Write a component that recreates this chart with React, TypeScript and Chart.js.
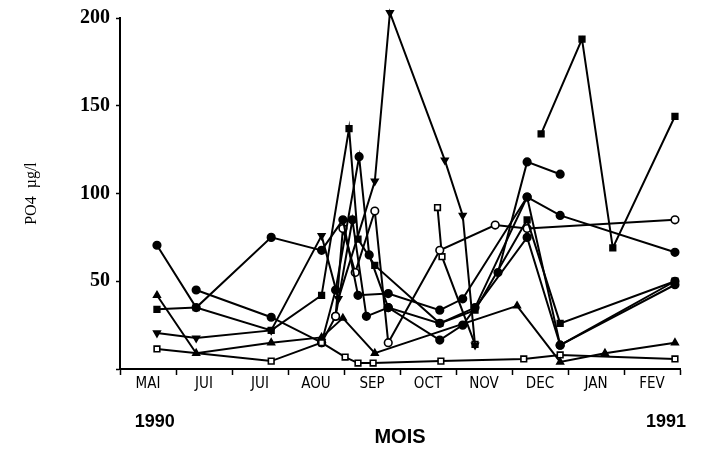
import { useEffect, useRef } from 'react';
import { Chart, registerables } from 'chart.js';

Chart.register(...registerables);

// Month labels (placed between month ticks); x = months since 1 May 1990
const monthLabels = ['MAI', 'JUI', 'JUI', 'AOU', 'SEP', 'OCT', 'NOV', 'DEC', 'JAN', 'FEV'];
const yearLabels = ['1990', '1991'];
const yearPositions = [0.62, 9.75];
const yTicks = [50, 100, 150, 200];

// Station series (x = month position, y = PO4 µg/l)
const sA_x = [0.66, 1.36, 2.7, 3.6, 3.98, 4.25, 4.79, 5.71, 6.12, 7.27, 7.86, 9.91];
const sA_y = [70.5, 35, 75, 67.6, 85, 42, 43, 33.5, 40, 98, 87.5, 66.5];

const sB_x = [0.66, 1.36, 2.7, 3.6, 4.09, 4.25, 4.55, 5.71, 6.34, 7.27, 7.86, 9.91];
const sB_y = [34, 35, 22, 42, 137, 74, 59, 26, 33.5, 85, 26, 50];

const sC_x = [0.66, 1.36, 2.7, 3.6, 3.98, 4.55, 7.09, 7.86, 8.66, 9.91];
const sC_y = [42, 9, 15, 18, 29, 9, 36, 4, 9, 15];

const sD_x = [0.66, 2.7, 3.6, 4.02, 4.25, 4.52, 5.73, 7.21, 7.86, 9.91];
const sD_y = [11.4, 4.5, 15, 6.8, 3.4, 3.4, 4.5, 5.7, 8, 5.7];

const sE_x = [1.36, 2.7, 3.6, 3.85, 4.27, 4.45, 4.79, 5.71, 6.12, 7.27, 7.86, 9.91];
const sE_y = [45, 29.5, 15, 45, 121, 65, 35, 16.5, 25, 75, 13.6, 48];

const sF_x = [0.66, 1.36, 2.7, 3.6, 3.9, 4.55, 4.82, 5.8, 6.12, 6.34];
const sF_y = [20.5, 17.6, 22, 76, 40, 107, 203, 119, 87.5, 13.6];

const sG_x = [3.85, 3.98, 4.2, 4.55, 4.79, 5.71, 6.7, 7.27, 9.91];
const sG_y = [30, 80, 55, 90, 15, 67.6, 82, 80, 85];

const sH_x = [5.67, 5.75, 6.34];
const sH_y = [92, 64, 14];

const sI_x = [7.52, 8.25, 8.8, 9.91];
const sI_y = [134, 188, 69, 144];

const sJ_x = [6.75, 7.27, 7.86];
const sJ_y = [55, 118, 111];

const sK_x = [3.6, 3.85, 4.15, 4.4, 4.79, 5.71, 6.34, 7.27, 7.86, 9.91];
const sK_y = [15, 30, 85, 30, 35, 26, 35, 98, 13.6, 50];

const SERIF = '"Liberation Serif", "DejaVu Serif", serif';
const NARROW = '"Liberation Sans Narrow", "DejaVu Sans Condensed", "Liberation Sans", sans-serif';
const SANS = '"Liberation Sans", Arial, sans-serif';

function series(xs: number[], ys: number[], style: string, open: boolean, rotation = 0) {
  return {
    data: xs.map((x, i) => ({ x, y: ys[i] })),
    borderColor: '#000',
    borderWidth: 2,
    pointStyle: style,
    pointRotation: rotation,
    pointRadius: style === 'rect' ? 4 : 3.8,
    pointBackgroundColor: open ? '#fff' : '#000',
    pointBorderColor: '#000',
    pointBorderWidth: 1.6,
    fill: false,
    tension: 0,
    clip: false as any,
  };
}

export default function App() {
  const ref = useRef<HTMLCanvasElement>(null);

  useEffect(() => {
    if (!ref.current) return;
    const halfTicks: number[] = [];
    for (let i = 0; i <= 20; i++) halfTicks.push(i / 2);

    const chart = new Chart(ref.current, {
      type: 'line',
      data: {
        datasets: [
          series(sA_x, sA_y, 'circle', false),
          series(sB_x, sB_y, 'rect', false),
          series(sC_x, sC_y, 'triangle', false),
          series(sD_x, sD_y, 'rect', true),
          series(sE_x, sE_y, 'circle', false),
          series(sF_x, sF_y, 'triangle', false, 180),
          series(sG_x, sG_y, 'circle', true),
          series(sH_x, sH_y, 'rect', true),
          series(sI_x, sI_y, 'rect', false),
          series(sJ_x, sJ_y, 'circle', false),
          series(sK_x, sK_y, 'circle', false),
        ] as any,
      },
      options: {
        responsive: false,
        animation: false,
        events: [],
        layout: { padding: { left: 0, right: 25, top: 17, bottom: 0 } },
        plugins: { legend: { display: false }, tooltip: { enabled: false } },
        scales: {
          x: {
            type: 'linear',
            position: 'bottom',
            weight: 0,
            min: 0,
            max: 10,
            afterBuildTicks: (axis: any) => {
              axis.ticks = halfTicks.map((v) => ({ value: v }));
            },
            afterFit: (s: any) => {
              s.height = 36;
            },
            ticks: {
              autoSkip: false,
              maxRotation: 0,
              minRotation: 0,
              padding: 0,
              color: '#000',
              font: { family: NARROW, size: 15 },
              callback: (v: any) => (Number.isInteger(v) ? '' : monthLabels[Math.floor(v)]),
            },
            grid: {
              drawOnChartArea: false,
              tickLength: 6,
              tickWidth: 1.5,
              tickColor: (ctx: any) => (ctx.tick && Number.isInteger(ctx.tick.value) ? '#000' : 'rgba(0,0,0,0)'),
            },
            border: { color: '#000', width: 2 },
          },
          x2: {
            type: 'linear',
            position: 'bottom',
            weight: 1,
            min: 0,
            max: 10,
            afterBuildTicks: (axis: any) => {
              axis.ticks = yearPositions.map((v) => ({ value: v }));
            },
            afterFit: (s: any) => {
              s.height = 53;
            },
            ticks: {
              autoSkip: false,
              maxRotation: 0,
              padding: 6,
              color: '#000',
              font: { family: SANS, size: 18, weight: 'bold' },
              callback: (_v: any, i: number) => yearLabels[i],
            },
            grid: { display: false, drawTicks: false },
            border: { display: false },
            title: {
              display: true,
              text: 'MOIS',
              color: '#000',
              font: { family: SANS, size: 20, weight: 'bold' },
              padding: { top: 0, bottom: 9 },
            },
          },
          y: {
            type: 'linear',
            min: 0,
            max: 200,
            afterBuildTicks: (axis: any) => {
              axis.ticks = [0, ...yTicks].map((v) => ({ value: v }));
            },
            afterFit: (s: any) => {
              s.width = 120;
            },
            ticks: {
              padding: 6,
              color: '#000',
              font: { family: SERIF, size: 20, weight: 'bold' },
              callback: (v: any) => (v === 0 ? '' : String(v)),
            },
            grid: { drawOnChartArea: false, tickLength: 4, tickWidth: 1.5, tickColor: '#000' },
            border: { color: '#000', width: 2 },
            title: {
              display: true,
              text: 'PO4  µg/l',
              color: '#000',
              font: { family: SERIF, size: 16 },
              padding: { top: 22, bottom: 0 },
            },
          },
        },
      } as any,
    });
    return () => chart.destroy();
  }, []);

  return (
    <div style={{ position: 'fixed', left: 0, top: 0, width: 705, height: 458, background: '#fff' }}>
      <canvas ref={ref} width={705} height={458} style={{ width: 705, height: 458 }} />
    </div>
  );
}
